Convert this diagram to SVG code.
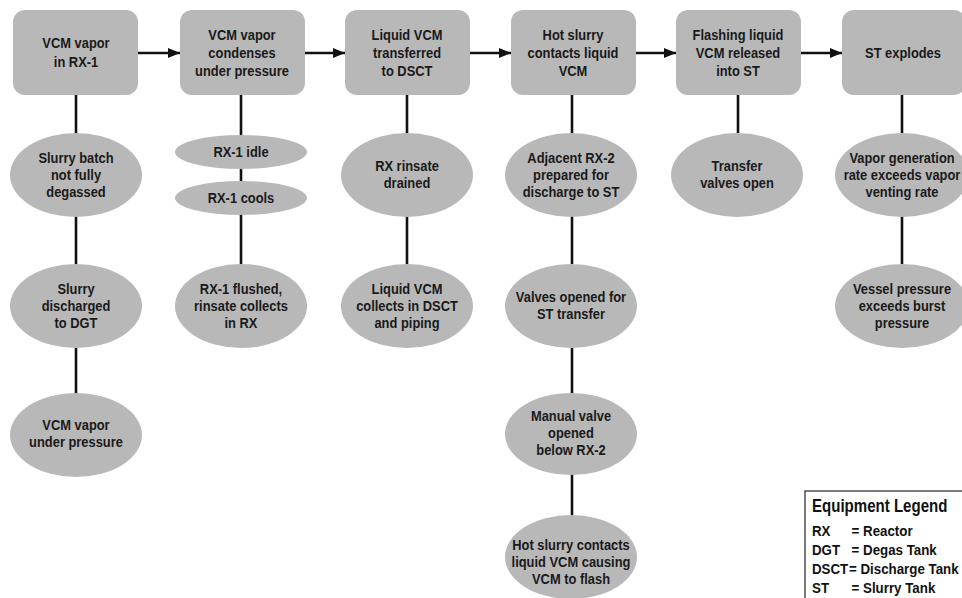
<svg xmlns="http://www.w3.org/2000/svg" width="962" height="598" viewBox="0 0 962 598">
<defs>
<marker id="ah" viewBox="0 0 12 10" refX="12" refY="5" markerWidth="12" markerHeight="10" markerUnits="userSpaceOnUse" orient="auto">
<path d="M0,0 L12,5 L0,10 Z" fill="#111"/>
</marker>
</defs>
<style>
.bx{fill:#b8b8b8;stroke:none}
.el{fill:#b8b8b8;stroke:none}
.t{font-family:"Liberation Sans",Arial,sans-serif;font-weight:bold;font-size:15px;fill:#1a1a1a;text-anchor:middle}
.c{stroke:#111;stroke-width:2.6;fill:none}
.lg{font-family:"Liberation Sans",Arial,sans-serif;font-weight:bold;font-size:15.5px;fill:#111}
</style>
<rect width="962" height="598" fill="#fff"/>
<g id="connectors">
<line class="c" x1="138" y1="53" x2="180" y2="53" marker-end="url(#ah)"/>
<line class="c" x1="305" y1="53" x2="345" y2="53" marker-end="url(#ah)"/>
<line class="c" x1="470" y1="53" x2="511" y2="53" marker-end="url(#ah)"/>
<line class="c" x1="636" y1="53" x2="676" y2="53" marker-end="url(#ah)"/>
<line class="c" x1="801" y1="53" x2="842" y2="53" marker-end="url(#ah)"/>
<line class="c" x1="76" y1="95" x2="76" y2="134"/>
<line class="c" x1="76" y1="216" x2="76" y2="265"/>
<line class="c" x1="76" y1="348" x2="76" y2="396"/>
<line class="c" x1="241" y1="95" x2="241" y2="136"/>
<line class="c" x1="241" y1="168" x2="241" y2="183"/>
<line class="c" x1="241" y1="214" x2="241" y2="265"/>
<line class="c" x1="407" y1="95" x2="407" y2="133"/>
<line class="c" x1="407" y1="216" x2="407" y2="264"/>
<line class="c" x1="572" y1="95" x2="572" y2="133"/>
<line class="c" x1="572" y1="216" x2="572" y2="264"/>
<line class="c" x1="572" y1="348" x2="572" y2="393"/>
<line class="c" x1="572" y1="474" x2="572" y2="516"/>
<line class="c" x1="738" y1="95" x2="738" y2="133"/>
<line class="c" x1="902" y1="95" x2="902" y2="133"/>
<line class="c" x1="902" y1="216" x2="902" y2="264"/>
</g>
<g id="box1"><rect class="bx" x="13" y="10" width="125" height="85" rx="12"/>
<g transform="translate(76 0) scale(0.86 1)"><text class="t" x="0" y="48">VCM vapor</text><text class="t" x="0" y="67">in RX-1</text></g></g>
<g id="box2"><rect class="bx" x="180" y="10" width="125" height="85" rx="12"/>
<g transform="translate(242 0) scale(0.86 1)"><text class="t" x="0" y="40">VCM vapor</text><text class="t" x="0" y="58">condenses</text><text class="t" x="0" y="76">under pressure</text></g></g>
<g id="box3"><rect class="bx" x="345" y="10" width="125" height="85" rx="12"/>
<g transform="translate(407 0) scale(0.86 1)"><text class="t" x="0" y="40">Liquid VCM</text><text class="t" x="0" y="58">transferred</text><text class="t" x="0" y="76">to DSCT</text></g></g>
<g id="box4"><rect class="bx" x="511" y="10" width="125" height="85" rx="12"/>
<g transform="translate(573 0) scale(0.86 1)"><text class="t" x="0" y="40">Hot slurry</text><text class="t" x="0" y="58">contacts liquid</text><text class="t" x="0" y="76">VCM</text></g></g>
<g id="box5"><rect class="bx" x="676" y="10" width="125" height="85" rx="12"/>
<g transform="translate(738 0) scale(0.86 1)"><text class="t" x="0" y="40">Flashing liquid</text><text class="t" x="0" y="58">VCM released</text><text class="t" x="0" y="76">into ST</text></g></g>
<g id="box6"><rect class="bx" x="842" y="10" width="124" height="85" rx="12"/>
<g transform="translate(903 0) scale(0.86 1)"><text class="t" x="0" y="58">ST explodes</text></g></g>

<g id="e1a"><ellipse class="el" cx="76" cy="175" rx="66" ry="42"/>
<g transform="translate(76 0) scale(0.86 1)"><text class="t" x="0" y="163">Slurry batch</text><text class="t" x="0" y="180">not fully</text><text class="t" x="0" y="197">degassed</text></g></g>
<g id="e1b"><ellipse class="el" cx="76" cy="306" rx="66" ry="42"/>
<g transform="translate(76 0) scale(0.86 1)"><text class="t" x="0" y="294">Slurry</text><text class="t" x="0" y="311">discharged</text><text class="t" x="0" y="328">to DGT</text></g></g>
<g id="e1c"><ellipse class="el" cx="76" cy="435" rx="66" ry="42"/>
<g transform="translate(76 0) scale(0.86 1)"><text class="t" x="0" y="430">VCM vapor</text><text class="t" x="0" y="447">under pressure</text></g></g>

<g id="e2a"><ellipse class="el" cx="241" cy="152" rx="66" ry="17"/>
<g transform="translate(241 0) scale(0.86 1)"><text class="t" x="0" y="157">RX-1 idle</text></g></g>
<g id="e2b"><ellipse class="el" cx="241" cy="198" rx="66" ry="17"/>
<g transform="translate(241 0) scale(0.86 1)"><text class="t" x="0" y="203">RX-1 cools</text></g></g>
<g id="e2c"><ellipse class="el" cx="241" cy="306" rx="66" ry="42"/>
<g transform="translate(241 0) scale(0.86 1)"><text class="t" x="0" y="294">RX-1 flushed,</text><text class="t" x="0" y="311">rinsate collects</text><text class="t" x="0" y="328">in RX</text></g></g>

<g id="e3a"><ellipse class="el" cx="407" cy="175" rx="66" ry="42"/>
<g transform="translate(407 0) scale(0.86 1)"><text class="t" x="0" y="171">RX rinsate</text><text class="t" x="0" y="188">drained</text></g></g>
<g id="e3b"><ellipse class="el" cx="407" cy="306" rx="66" ry="42"/>
<g transform="translate(407 0) scale(0.86 1)"><text class="t" x="0" y="294">Liquid VCM</text><text class="t" x="0" y="311">collects in DSCT</text><text class="t" x="0" y="328">and piping</text></g></g>

<g id="e4a"><ellipse class="el" cx="571" cy="175" rx="66" ry="42"/>
<g transform="translate(571 0) scale(0.86 1)"><text class="t" x="0" y="163">Adjacent RX-2</text><text class="t" x="0" y="180">prepared for</text><text class="t" x="0" y="197">discharge to ST</text></g></g>
<g id="e4b"><ellipse class="el" cx="571" cy="306" rx="66" ry="42"/>
<g transform="translate(571 0) scale(0.86 1)"><text class="t" x="0" y="302">Valves opened for</text><text class="t" x="0" y="319">ST transfer</text></g></g>
<g id="e4c"><ellipse class="el" cx="571" cy="434" rx="66" ry="41"/>
<g transform="translate(571 0) scale(0.86 1)"><text class="t" x="0" y="421">Manual valve</text><text class="t" x="0" y="438">opened</text><text class="t" x="0" y="455">below RX-2</text></g></g>
<g id="e4d"><ellipse class="el" cx="571" cy="557" rx="66" ry="42"/>
<g transform="translate(571 0) scale(0.86 1)"><text class="t" x="0" y="550">Hot slurry contacts</text><text class="t" x="0" y="567">liquid VCM causing</text><text class="t" x="0" y="584">VCM to flash</text></g></g>

<g id="e5a"><ellipse class="el" cx="737" cy="175" rx="66" ry="42"/>
<g transform="translate(737 0) scale(0.86 1)"><text class="t" x="0" y="171">Transfer</text><text class="t" x="0" y="188">valves open</text></g></g>

<g id="e6a"><ellipse class="el" cx="902" cy="175" rx="67" ry="42"/>
<g transform="translate(902 0) scale(0.86 1)"><text class="t" x="0" y="163">Vapor generation</text><text class="t" x="0" y="180">rate exceeds vapor</text><text class="t" x="0" y="197">venting rate</text></g></g>
<g id="e6b"><ellipse class="el" cx="902" cy="306" rx="67" ry="42"/>
<g transform="translate(902 0) scale(0.86 1)"><text class="t" x="0" y="294">Vessel pressure</text><text class="t" x="0" y="311">exceeds burst</text><text class="t" x="0" y="328">pressure</text></g></g>

<g id="legend">
<rect x="805" y="491" width="170" height="120" fill="#fff" stroke="#222" stroke-width="1.2"/>
<g transform="translate(812 0) scale(0.86 1)">
<text class="lg" x="0" y="512" style="font-size:17.5px">Equipment Legend</text>
<text class="lg" x="0" y="536">RX</text><text class="lg" x="46" y="536">= Reactor</text>
<text class="lg" x="0" y="555">DGT</text><text class="lg" x="46" y="555">= Degas Tank</text>
<text class="lg" x="0" y="574">DSCT</text><text class="lg" x="43" y="574">= Discharge Tank</text>
<text class="lg" x="0" y="593">ST</text><text class="lg" x="46" y="593">= Slurry Tank</text>
</g>
</g>
</svg>
